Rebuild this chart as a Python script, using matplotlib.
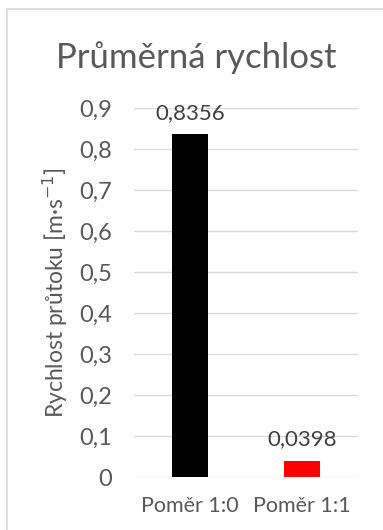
import matplotlib.pyplot as plt
from matplotlib.patches import Rectangle

categories = ["Poměr 1:0", "Poměr 1:1"]
values = [0.8356, 0.0398]
value_labels = ["0,8356", "0,0398"]
bar_colors = ["#000000", "#ff0000"]
y_ticks = [0, 0.1, 0.2, 0.3, 0.4, 0.5, 0.6, 0.7, 0.8, 0.9]

TEXT = "#595959"
GRID = "#d9d9d9"

plt.rcParams["font.family"] = ["Lato", "DejaVu Sans"]

fig = plt.figure(figsize=(3.83, 5.30), dpi=100)
W, H = 383, 530
ax = fig.add_axes([134 / W, 1 - 477 / H, (358 - 134) / W, (477 - 108) / H])

# chart frame
fig.patches.append(Rectangle((7 / W, -0.1), 1.0, 1.1 - 9 / H, transform=fig.transFigure,
                             fill=False, edgecolor=GRID, linewidth=1.2))

x = range(len(categories))
ax.bar(x, values, width=0.32, color=bar_colors, zorder=3)
for i, (v, lab) in enumerate(zip(values, value_labels)):
    ax.annotate(lab, (i, v), xytext=(0, 8), textcoords="offset points",
                ha="center", va="bottom", fontsize=16, color="#404040", zorder=4)

ax.set_xlim(-0.5, 1.5)
ax.set_ylim(0, 0.9)
ax.set_yticks(y_ticks)
ax.set_yticklabels([f"{t:.1f}".replace(".", ",") if t else "0" for t in y_ticks])
ax.set_xticks(list(x))
ax.set_xticklabels(categories)
ax.tick_params(axis="y", length=0, pad=16, labelsize=17, labelcolor=TEXT)
ax.tick_params(axis="x", length=0, pad=14, labelsize=15.5, labelcolor=TEXT)
ax.grid(axis="y", color=GRID, linewidth=1, zorder=0)
for s in ax.spines.values():
    s.set_visible(False)

ax.set_ylabel("Rychlost průtoku [m·s$^{-1}$]", fontsize=16.5, color=TEXT, labelpad=6)
fig.text(196 / W, 1 - 58 / H, "Průměrná rychlost", ha="center", va="center",
         fontsize=25, color=TEXT)

fig.savefig("out.png", dpi=100)
